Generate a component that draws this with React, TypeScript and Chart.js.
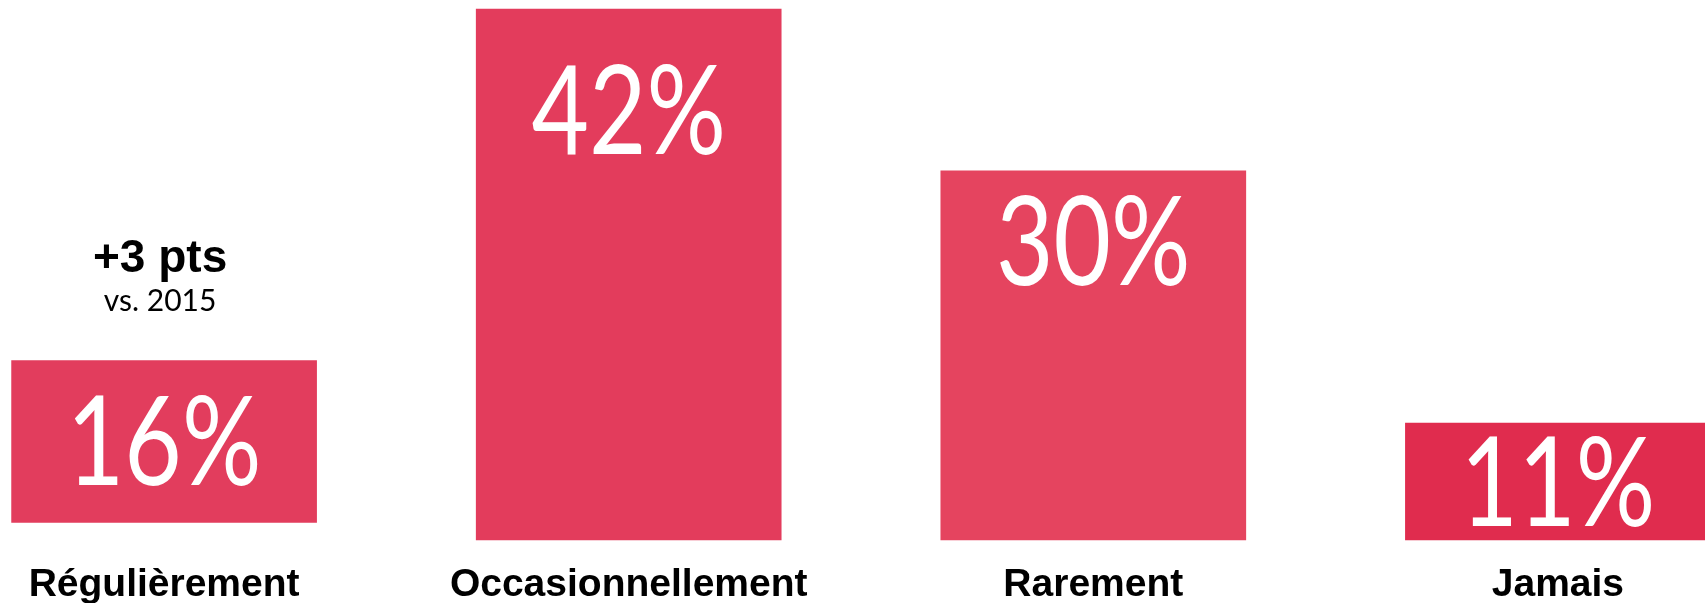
import React, { useEffect, useRef } from "react";
import { Chart, registerables } from "chart.js";

Chart.register(...registerables);

// Categories and their shares (%)
const categories = ["Régulièrement", "Occasionnellement", "Rarement", "Jamais"];
const values = [16, 42, 30, 11];
// Infographic bars are not strictly proportional: extents (in % units)
const barLow = [1.4, 0, 0, 0];
const barHigh = [14.2, 42, 29.2, 9.25];
const barColors = ["#E23D5D", "#E33C5C", "#E5445F", "#E02C4E"];
// Annotation above the first bar
const noteIndex = 0;
const noteMain = "+3 pts";
const noteSub = "vs. 2015";

const labelsPlugin = {
  id: "infoLabels",
  afterDatasetsDraw(chart: any) {
    const ctx = chart.ctx;
    const meta = chart.getDatasetMeta(0);
    const area = chart.chartArea;
    meta.data.forEach((bar: any, i: number) => {
      const { x, y, base } = bar.getProps(["x", "y", "base"], true);
      const top = Math.min(y, base);
      const bottom = Math.max(y, base);
      const h = bottom - top;
      const cy = h > 250 ? top + 0.19 * h : top + h / 2;
      // value label
      ctx.save();
      ctx.fillStyle = "#ffffff";
      ctx.font = '400 124px Lato, "Liberation Sans", sans-serif';
      ctx.textAlign = "center";
      ctx.textBaseline = "alphabetic";
      ctx.translate(x, cy + 44);
      ctx.scale(0.8, 1);
      ctx.fillText(values[i] + "%", 0, 0);
      ctx.restore();
      // category label
      ctx.save();
      ctx.fillStyle = "#000000";
      ctx.font = 'bold 39px "Liberation Sans", Arial, sans-serif';
      ctx.textAlign = "center";
      ctx.textBaseline = "alphabetic";
      ctx.fillText(categories[i], x, area.bottom - 7);
      ctx.restore();
      // annotation
      if (i === noteIndex) {
        ctx.save();
        ctx.fillStyle = "#000000";
        ctx.textAlign = "center";
        ctx.textBaseline = "alphabetic";
        ctx.font = 'bold 46px "Liberation Sans", Arial, sans-serif';
        ctx.fillText(noteMain, x - 4, top - 88);
        ctx.font = '30px Lato, "Liberation Sans", sans-serif';
        ctx.fillText(noteSub, x - 4, top - 49);
        ctx.restore();
      }
    });
  },
};

export default function App() {
  const canvasRef = useRef<HTMLCanvasElement | null>(null);

  useEffect(() => {
    if (!canvasRef.current) return;
    const chart = new Chart(canvasRef.current, {
      type: "bar",
      data: {
        datasets: [
          {
            data: categories.map((_, i) => ({ x: i, y: [barLow[i], barHigh[i]] })) as any,
            backgroundColor: barColors,
            borderWidth: 0,
            borderSkipped: false,
            barThickness: 305,
          },
        ],
      },
      options: {
        animation: false,
        responsive: true,
        maintainAspectRatio: false,
        layout: { padding: 0 },
        plugins: {
          legend: { display: false },
          tooltip: { enabled: false },
        },
        scales: {
          x: {
            type: "linear",
            offset: false,
            min: -0.3532,
            max: 3.3166,
            display: false,
            grid: { offset: false },
          },
          y: { type: "linear", min: -4.983, max: 42.71, display: false },
        },
      },
      plugins: [labelsPlugin],
    });
    return () => chart.destroy();
  }, []);

  return (
    <div
      style={{
        position: "absolute",
        left: 0,
        top: 0,
        width: 1705,
        height: 603,
        background: "#ffffff",
      }}
    >
      <canvas ref={canvasRef} />
    </div>
  );
}
